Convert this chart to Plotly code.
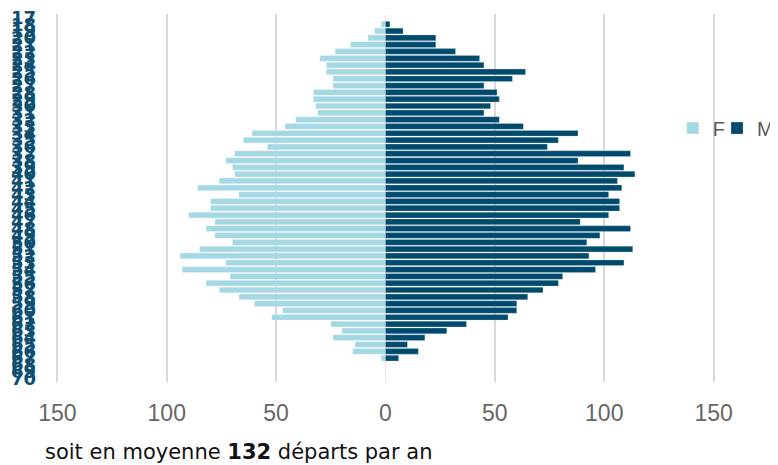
import plotly.graph_objects as go

# Data
ages = list(range(18, 68))
tick_ages = list(range(17, 71))
femmes = [2, 5, 8, 16, 23, 30, 27, 27, 24, 24, 33, 33, 32, 31, 41, 46, 61, 65, 54, 69,
          73, 70, 69, 76, 86, 67, 80, 80, 90, 78, 82, 78, 70, 85, 94, 73, 93, 71, 82, 76,
          67, 60, 47, 52, 25, 20, 24, 14, 15, 2]
hommes = [2, 8, 23, 23, 32, 43, 45, 64, 58, 45, 51, 52, 48, 45, 52, 63, 88, 79, 74, 112,
          88, 109, 114, 106, 108, 102, 107, 107, 102, 89, 112, 98, 92, 113, 93, 109, 96, 81, 79, 72,
          65, 60, 60, 56, 37, 28, 18, 10, 15, 6]
x_ticks = [-150, -100, -50, 0, 50, 100, 150]
x_ticktext = [str(abs(v)) for v in x_ticks]

COL_F = "#a5d8e5"
COL_M = "#004a6e"
COL_Y = "#0d4f72"

fig = go.Figure()
fig.add_trace(go.Bar(y=ages, x=[-v for v in femmes], name="F", orientation="h", legend="legend",
                     marker=dict(color=COL_F, line=dict(color="rgba(255,255,255,0.5)", width=0.5))))
fig.add_trace(go.Bar(y=ages, x=hommes, name="M", orientation="h", legend="legend2",
                     marker=dict(color=COL_M, line=dict(color="rgba(200,220,230,0.6)", width=0.5))))

legend_font = dict(family="Liberation Sans", size=20, color="#595959")

fig.update_layout(
    width=778, height=465,
    margin=dict(l=45, r=68, t=6, b=91, autoexpand=False),
    plot_bgcolor="white", paper_bgcolor="white",
    barmode="overlay", bargap=0.16,
    showlegend=True,
    legend=dict(orientation="h", x=0.932, y=0.69, xanchor="left", yanchor="middle",
                font=legend_font, bgcolor="rgba(0,0,0,0)", itemwidth=30),
    legend2=dict(orientation="h", x=0.9985, y=0.69, xanchor="left", yanchor="middle",
                 font=legend_font, bgcolor="rgba(0,0,0,0)", itemwidth=30),
    xaxis=dict(range=[-152, 152], tickvals=x_ticks, ticktext=x_ticktext,
               showgrid=True, gridcolor="#d9d9d9", gridwidth=2,
               zeroline=True, zerolinecolor="#e6e6e6", zerolinewidth=1,
               tickfont=dict(family="Liberation Sans", size=23, color="#666666"),
               ticks="", ticklabelstandoff=15, showline=False),
    yaxis=dict(range=[70.5, 16.5], tickvals=tick_ages, ticktext=[str(a) for a in tick_ages],
               showgrid=False, zeroline=False, ticks="",
               tickfont=dict(family="DejaVu Sans", size=18, color=COL_Y, weight="bold"),
               ticklabelstandoff=16, ticklabeloverflow="allow", showline=False),
    annotations=[dict(text="soit en moyenne <b>132</b> départs par an", xref="paper", yref="paper",
                      x=-0.015, y=-0.19, xanchor="left", yanchor="middle", showarrow=False,
                      font=dict(family="DejaVu Sans", size=21, color="#111111"))],
)

fig.write_html("out.html")
